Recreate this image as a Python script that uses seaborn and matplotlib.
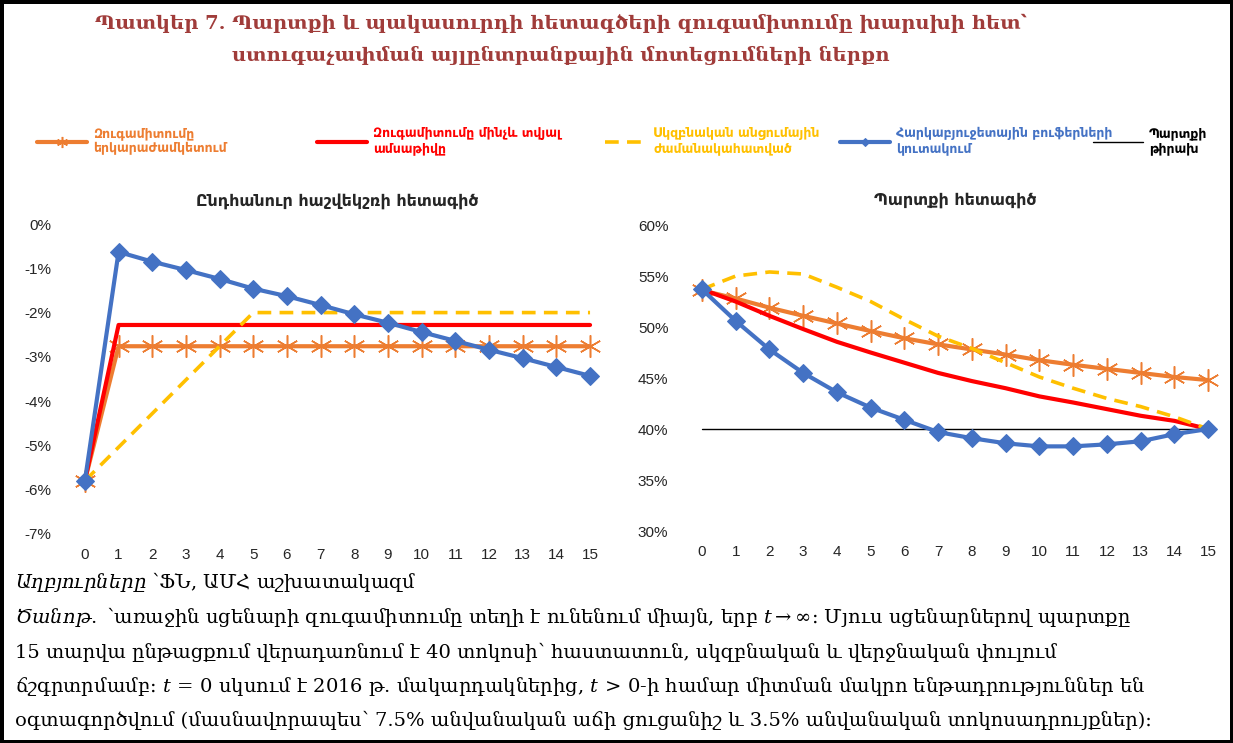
"""Debt and deficit convergence paths under alternative calibration approaches."""
import matplotlib
matplotlib.use('Agg')
import matplotlib.pyplot as plt
import matplotlib.ticker as mticker
import pandas as pd
import seaborn as sns

# %%
# Data
years = [0, 1, 2, 3, 4, 5, 6, 7, 8, 9, 10, 11, 12, 13, 14, 15]

# overall balance, % of GDP
bal_long = [-5.80, -2.76, -2.76, -2.76, -2.76, -2.76, -2.76, -2.76, -2.76, -2.76, -2.76, -2.76, -2.76, -2.76, -2.76, -2.76]
bal_date = [-5.80, -2.28, -2.28, -2.28, -2.28, -2.28, -2.28, -2.28, -2.28, -2.28, -2.28, -2.28, -2.28, -2.28, -2.28, -2.28]
bal_init = [-5.80, -5.04, -4.28, -3.52, -2.76, -2.00, -2.00, -2.00, -2.00, -2.00, -2.00, -2.00, -2.00, -2.00, -2.00, -2.00]
bal_buff = [-5.80, -0.63, -0.85, -1.04, -1.24, -1.46, -1.63, -1.83, -2.04, -2.23, -2.44, -2.64, -2.84, -3.03, -3.23, -3.43]

# debt, % of GDP
debt_long = [53.6, 52.8, 51.9, 51.1, 50.35, 49.6, 48.9, 48.3, 47.8, 47.3, 46.75, 46.3, 45.9, 45.5, 45.1, 44.8]
debt_date = [53.7, 52.5, 51.1, 49.8, 48.55, 47.5, 46.5, 45.5, 44.7, 44.0, 43.2, 42.6, 41.95, 41.3, 40.8, 40.0]
debt_init = [53.7, 55.0, 55.4, 55.2, 53.9, 52.5, 50.75, 49.1, 47.9, 46.5, 45.1, 44.0, 43.0, 42.2, 41.2, 40.0]
debt_buff = [53.7, 50.6, 47.8, 45.5, 43.6, 42.1, 40.9, 39.7, 39.1, 38.6, 38.3, 38.3, 38.5, 38.8, 39.5, 40.0]
debt_target = [40, 40, 40, 40, 40, 40, 40, 40, 40, 40, 40, 40, 40, 40, 40, 40]

labels = ['Զուգամիտումը\nերկարաժամկետում',
          'Զուգամիտումը մինչև տվյալ\nամսաթիվը',
          'Սկզբնական անցումային\nժամանակահատված',
          'Հարկաբյուջետային բուֆերների\nկուտակում',
          'Պարտքի\nթիրախ']
title = ('Պատկեր 7. Պարտքի և պակասուրդի հետագծերի զուգամիտումը խարսխի հետ՝\n'
         'ստուգաչափման այլընտրանքային մոտեցումների ներքո')
left_title = 'Ընդհանուր հաշվեկշռի հետագիծ'
right_title = 'Պարտքի հետագիծ'
notes = [r'$\mathit{Աղբյուրները}$ ՝ՖՆ, ԱՄՀ աշխատակազմ',
         r'$\mathit{Ծանոթ.}$ ՝առաջին սցենարի զուգամիտումը տեղի է ունենում միայն, երբ $t \rightarrow \infty$։ Մյուս սցենարներով պարտքը',
         '15 տարվա ընթացքում վերադառնում է 40 տոկոսի՝ հաստատուն, սկզբնական և վերջնական փուլում',
         r'ճշգրտրմամբ։ $t\,=\,0$ սկսում է 2016 թ. մակարդակներից, $t\,>\,0$-ի համար միտման մակրո ենթադրություններ են',
         'օգտագործվում (մասնավորապես՝ 7.5% անվանական աճի ցուցանիշ և 3.5% անվանական տոկոսադրույքներ)։']

# %%
sns.set_style('white')
plt.rcParams['font.family'] = ['Liberation Sans', 'DejaVu Sans']
plt.rcParams['axes.unicode_minus'] = False
plt.rcParams['mathtext.fontset'] = 'custom'
plt.rcParams['mathtext.rm'] = 'DejaVu Serif'
plt.rcParams['mathtext.it'] = 'DejaVu Serif:italic'

orange, red, gold, blue = '#ED7D31', '#FF0000', '#FFC000', '#4472C4'
star = (6, 2, 0)

fig = plt.figure(figsize=(12.33, 7.43), dpi=100)
ax1 = fig.add_axes([0.0552, 0.2813, 0.437, 0.4172])
ax2 = fig.add_axes([0.5556, 0.2853, 0.438, 0.4118])

bal = pd.DataFrame({'t': years, 'long': bal_long, 'date': bal_date,
                    'init': bal_init, 'buff': bal_buff})
debt = pd.DataFrame({'t': years, 'long': debt_long, 'date': debt_date,
                     'init': debt_init, 'buff': debt_buff, 'target': debt_target})

for ax, df in [(ax1, bal), (ax2, debt)]:
    if 'target' in df:
        sns.lineplot(data=df, x='t', y='target', ax=ax, color='black', lw=1)
    sns.lineplot(data=df, x='t', y='long', ax=ax, color=orange, lw=3,
                 marker=star, markersize=16, markeredgecolor=orange, markeredgewidth=1.1)
    sns.lineplot(data=df, x='t', y='date', ax=ax, color=red, lw=3)
    sns.lineplot(data=df, x='t', y='init', ax=ax, color=gold, lw=2.6,
                 linestyle=(0, (3.8, 2.3)))
    sns.lineplot(data=df, x='t', y='buff', ax=ax, color=blue, lw=3,
                 marker='D', markersize=9, markeredgecolor=blue)
    for ln in ax.get_lines():
        ln.set_clip_on(False)
    ax.set_xlim(-0.5, 15.5)
    ax.set_xticks(years)
    ax.set_xlabel('')
    ax.set_ylabel('')
    ax.yaxis.set_major_formatter(mticker.FuncFormatter(lambda v, p: f'{int(round(v))}%'))
    ax.tick_params(axis='both', labelsize=11, length=0)
    ax.tick_params(axis='y', pad=12)
    ax.tick_params(axis='x', pad=10)
    sns.despine(ax=ax, left=True, bottom=True)

ax1.set_ylim(-7, 0)
ax1.set_yticks([0, -1, -2, -3, -4, -5, -6, -7])
ax2.set_ylim(30, 60)
ax2.set_yticks([30, 35, 40, 45, 50, 55, 60])

ax1.set_title(left_title, fontsize=11.5, fontweight='bold', family='DejaVu Sans', pad=13)
ax2.set_title(right_title, fontsize=11.5, fontweight='bold', family='DejaVu Sans', pad=15)

# legend, one entry per series, placed as in the source layout
lines = ax2.get_lines()
entries = [(lines[1], labels[0], orange, 37, 4.0), (lines[2], labels[1], red, 317, 4.0),
           (lines[3], labels[2], gold, 605, 3.4), (lines[4], labels[3], blue, 840, 4.0),
           (lines[0], labels[4], 'black', 1093, 4.0)]
for h, lab, col, xpx, hl in entries:
    lg = fig.legend(handles=[h], labels=[lab], loc='center left',
                    bbox_to_anchor=(xpx / 1233, 0.810), frameon=False,
                    borderpad=0, borderaxespad=0, handlelength=hl, handletextpad=0.45,
                    labelcolor=col, markerscale=0.5,
                    prop={'family': 'DejaVu Sans', 'weight': 'bold', 'size': 9})

fig.text(0.455, 0.982, title, ha='center', va='top', color='#A03C3A',
         fontsize=14, fontweight='bold', family='DejaVu Serif', linespacing=1.9)

for txt, ypx in zip(notes, [582, 617, 652, 686, 720]):
    fig.text(0.012, 1 - ypx / 743, txt, ha='left', va='center',
             fontsize=14, family='DejaVu Serif', color='black')

fig.patch.set_edgecolor('black')
fig.patch.set_linewidth(5)

plt.savefig('out.png', dpi=100)
